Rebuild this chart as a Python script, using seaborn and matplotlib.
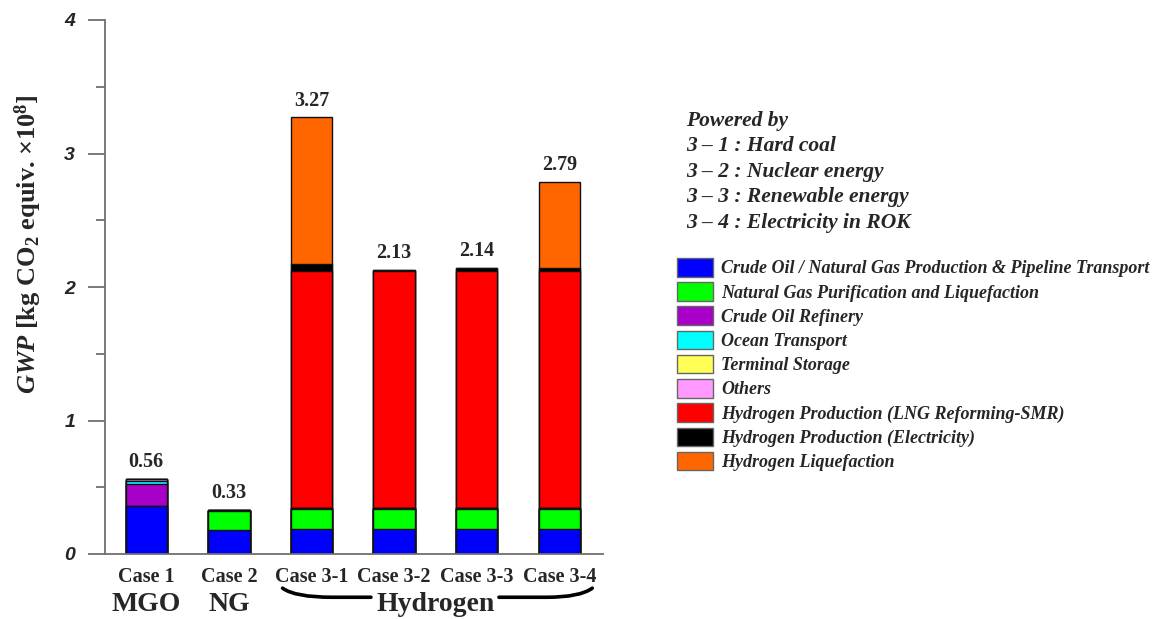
import numpy as np
import pandas as pd
import seaborn as sns
import matplotlib.pyplot as plt
from matplotlib.path import Path
from matplotlib.patches import PathPatch, Patch
from matplotlib.ticker import MultipleLocator

# ---- data (GWP, kg CO2 equiv. x 10^8) ----
cases = ["Case 1", "Case 2", "Case 3-1", "Case 3-2", "Case 3-3", "Case 3-4"]
fuels = ["MGO", "NG", "Hydrogen"]

crude_ng_production = [0.36, 0.18, 0.19, 0.19, 0.19, 0.19]
ng_purification = [0.00, 0.14, 0.15, 0.15, 0.15, 0.15]
crude_refinery = [0.165, 0.00, 0.00, 0.00, 0.00, 0.00]
ocean_transport = [0.02, 0.005, 0.003, 0.003, 0.003, 0.003]
terminal_storage = [0.005, 0.005, 0.002, 0.002, 0.002, 0.002]
others = [0.01, 0.00, 0.00, 0.00, 0.00, 0.00]
h2_smr = [0.00, 0.00, 1.775, 1.775, 1.775, 1.775]
h2_electricity = [0.00, 0.00, 0.05, 0.01, 0.02, 0.02]
h2_liquefaction = [0.00, 0.00, 1.10, 0.00, 0.00, 0.65]

components = [
    ("Crude Oil / Natural Gas Production & Pipeline Transport", crude_ng_production, "#0000FF"),
    ("Natural Gas Purification and Liquefaction", ng_purification, "#00FF00"),
    ("Crude Oil Refinery", crude_refinery, "#A800C8"),
    ("Ocean Transport", ocean_transport, "#00FFFF"),
    ("Terminal Storage", terminal_storage, "#FFFF55"),
    ("Others", others, "#FF99FF"),
    ("Hydrogen Production (LNG Reforming-SMR)", h2_smr, "#FF0000"),
    ("Hydrogen Production (Electricity)", h2_electricity, "#000000"),
    ("Hydrogen Liquefaction", h2_liquefaction, "#FF6600"),
]

powered_by = [
    "Powered by",
    "3 \u2013 1 : Hard coal",
    "3 \u2013 2 : Nuclear energy",
    "3 \u2013 3 : Renewable energy",
    "3 \u2013 4 : Electricity in ROK",
]

# ---- style ----
sns.set_theme(style="white")
plt.rcParams["font.family"] = ["Liberation Serif", "DejaVu Serif"]
plt.rcParams["mathtext.fontset"] = "custom"
plt.rcParams["mathtext.rm"] = "Liberation Serif:bold"
plt.rcParams["mathtext.bf"] = "Liberation Serif:bold"
plt.rcParams["mathtext.it"] = "Liberation Serif:bold:italic"

fig = plt.figure(figsize=(11.59, 6.19), dpi=100)
ax = fig.add_axes([105 / 1159, 1 - 554 / 619, 498 / 1159, 534 / 619])

# stacked bars: draw cumulative heights from the top segment down
values = np.array([c[1] for c in components])
cumulative = np.cumsum(values, axis=0)
for i in range(len(components) - 1, -1, -1):
    df = pd.DataFrame({"case": cases, "value": cumulative[i]})
    sns.barplot(data=df, x="case", y="value", order=cases, color=components[i][2],
                saturation=1, width=0.5, edgecolor="#111111", linewidth=1.0,
                legend=False, ax=ax)

totals = cumulative[-1]
for xi, t in enumerate(totals):
    ax.annotate(f"{t:.2f}", (xi, t), xytext=(0, 5), textcoords="offset points",
                ha="center", va="bottom", fontsize=14.5, fontweight="bold",
                family="Liberation Serif")

# axes
ax.set_xlim(-0.5, 5.53)
ax.set_ylim(0, 4)
ax.yaxis.set_major_locator(MultipleLocator(1))
ax.yaxis.set_minor_locator(MultipleLocator(0.5))
for side in ("top", "right"):
    ax.spines[side].set_visible(False)
for side in ("left", "bottom"):
    ax.spines[side].set_color("#707070")
    ax.spines[side].set_linewidth(1.3)
ax.tick_params(axis="y", which="major", direction="out", length=12.5, width=1.3,
               color="#707070", pad=9, left=True)
ax.tick_params(axis="y", which="minor", direction="out", length=6.5, width=1.3,
               color="#707070", left=True)
ax.tick_params(axis="x", length=0, pad=9)
ax.set_yticks([0, 1, 2, 3, 4])
ax.set_yticklabels(["0", "1", "2", "3", "4"], family="Liberation Sans",
                   fontweight="bold", fontstyle="italic", fontsize=14)
ax.set_xticks(range(len(cases)))
ax.set_xticklabels(cases, family="Liberation Serif", fontweight="bold", fontsize=14.5)
ax.set_xlabel("")
ax.set_ylabel(r"$\mathit{GWP}$ [kg CO$_2$ equiv. $\times$10$^8$]", fontsize=19,
              fontweight="bold")
ax.yaxis.set_label_coords(-0.122, 0.58)

# fuel group labels under the cases
xt = ax.get_xaxis_transform()
group_pos = [0, 1, 3.5]
for name, xp in zip(fuels, group_pos):
    ax.text(xp, -0.094, name, transform=xt, ha="center", va="center",
            fontsize=20, fontweight="bold", family="Liberation Serif")

# bracket around the hydrogen cases
y_end, y_flat = -0.064, -0.081
left = Path([(1.65, y_end), (1.8, y_flat), (2.25, y_flat), (2.72, y_flat)],
            [Path.MOVETO, Path.CURVE3, Path.CURVE3, Path.LINETO])
right = Path([(4.27, y_flat), (4.85, y_flat), (5.25, y_flat), (5.4, y_end)],
             [Path.MOVETO, Path.LINETO, Path.CURVE3, Path.CURVE3])
for p in (left, right):
    ax.add_patch(PathPatch(p, transform=xt, fill=False, lw=2.6, color="black",
                           clip_on=False, capstyle="round"))

# annotation block and legend
fig.text(686 / 1159, 1 - 111 / 619, "\n".join(powered_by), ha="left", va="top",
         fontsize=15.5, fontweight="bold", fontstyle="italic",
         family="Liberation Serif", linespacing=1.36)

handles = [Patch(facecolor=c, edgecolor="#666666", linewidth=1.0, label=n)
           for n, _, c in components]
fig.legend(handles=handles, loc="upper left", bbox_to_anchor=(677 / 1159, 1 - 258 / 619),
           frameon=False, borderpad=0, borderaxespad=0, handlelength=2.0,
           handleheight=1.2, handletextpad=0.45, labelspacing=0.27,
           prop={"family": "Liberation Serif", "weight": "bold", "style": "italic",
                 "size": 13})

fig.savefig("out.png", dpi=100)
